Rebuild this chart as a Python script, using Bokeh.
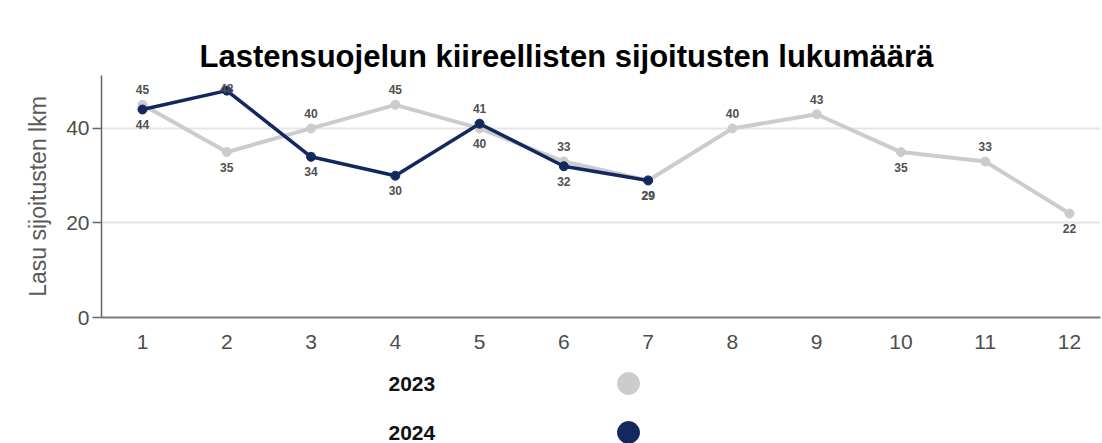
from bokeh.plotting import figure
from bokeh.models import ColumnDataSource, Range1d, FixedTicker
from bokeh.layouts import column
from bokeh.embed import file_html
from bokeh.resources import INLINE
from bokeh.core.properties import value

# ---- data ----
months = [1, 2, 3, 4, 5, 6, 7, 8, 9, 10, 11, 12]
values_2023 = [45, 35, 40, 45, 40, 33, 29, 40, 43, 35, 33, 22]
months_2024 = [1, 2, 3, 4, 5, 6, 7]
values_2024 = [44, 48, 34, 30, 41, 32, 29]
series_names = ["2023", "2024"]
y_ticks = [0, 20, 40]

# label placement (style)
pos_2023 = ["above", "below", "above", "above", "below", "above", "below",
            "above", "above", "below", "above", "below"]
pos_2024 = ["below", "above", "below", "below", "above", "below", "below"]

C23 = "#cccccc"
C24 = "#13285e"
FONT = "Liberation Sans"

W = 1102
LEFT = 101
RIGHT = 2
Y_MAX = 51.2
FRAME_H = 242
px = Y_MAX / FRAME_H


def label_y(vals, pos):
    out = []
    for v, p in zip(vals, pos):
        if p == "above":
            out.append(min(v + 15 * px, Y_MAX - 13 * px))
        else:
            out.append(v - 15 * px)
    return out


src23 = ColumnDataSource(dict(x=months, y=values_2023,
                              ly=label_y(values_2023, pos_2023),
                              t=[str(v) for v in values_2023]))
src24 = ColumnDataSource(dict(x=months_2024, y=values_2024,
                              ly=label_y(values_2024, pos_2024),
                              t=[str(v) for v in values_2024]))

p = figure(width=W, height=360, output_backend="svg", toolbar_location=None,
           x_range=Range1d(0.5135, 12.368), y_range=Range1d(0, Y_MAX),
           min_border_left=LEFT, min_border_right=RIGHT, min_border_top=75,
           min_border_bottom=43,
           title="Lastensuojelun kiireellisten sijoitusten lukumäärä")
p.outline_line_color = None
p.background_fill_color = "white"
p.border_fill_color = "white"

p.title.text_font = FONT
p.title.text_font_size = "31px"
p.title.text_font_style = "bold"
p.title.text_color = "#000000"
p.title.align = "left"
p.title.offset = 98
p.title.standoff = 3

p.xgrid.grid_line_color = None
p.ygrid.grid_line_color = "#e6e6e6"
p.ygrid.grid_line_width = 2
p.ygrid.ticker = FixedTicker(ticks=[20, 40])

p.xaxis.ticker = FixedTicker(ticks=months)
p.xaxis.major_tick_line_color = None
p.xaxis.minor_tick_line_color = None
p.xaxis.axis_line_color = "#7a7a7a"
p.xaxis.axis_line_width = 2
p.xaxis.major_label_text_font = FONT
p.xaxis.major_label_text_font_size = "21px"
p.xaxis.major_label_text_color = "#4d4d4d"
p.xaxis.major_label_standoff = 11

p.yaxis.ticker = FixedTicker(ticks=y_ticks)
p.yaxis.minor_tick_line_color = None
p.yaxis.major_tick_in = 0
p.yaxis.major_tick_out = 9
p.yaxis.major_tick_line_color = "#666666"
p.yaxis.major_tick_line_width = 1.5
p.yaxis.axis_line_color = "#666666"
p.yaxis.axis_line_width = 1.5
p.yaxis.major_label_text_font = FONT
p.yaxis.major_label_text_font_size = "21px"
p.yaxis.major_label_text_color = "#4d4d4d"
p.yaxis.major_label_standoff = 3
p.yaxis.axis_label = "Lasu sijoitusten lkm"
p.yaxis.axis_label_text_font = FONT
p.yaxis.axis_label_text_font_size = "23px"
p.yaxis.axis_label_text_font_style = "normal"
p.yaxis.axis_label_text_color = "#595959"
p.yaxis.axis_label_standoff = 12

p.line("x", "y", source=src23, line_color=C23, line_width=4)
p.scatter("x", "y", source=src23, size=9, fill_color=C23, line_color=C23)
p.line("x", "y", source=src24, line_color=C24, line_width=3.5)
p.scatter("x", "y", source=src24, size=9, fill_color=C24, line_color=C24)

for s in (src23, src24):
    p.text("x", "ly", text="t", source=s, text_font=value(FONT),
           text_font_size="12px", text_font_style="bold", text_color="#505050",
           text_align="center", text_baseline="middle")

# ---- legend (separate strip, pixel-mapped ranges) ----
LEG_H = 83
leg = figure(width=W, height=LEG_H, output_backend="svg", toolbar_location=None,
             x_range=Range1d(LEFT, W - RIGHT), y_range=Range1d(LEG_H, 0),
             min_border_left=LEFT, min_border_right=RIGHT,
             min_border_top=0, min_border_bottom=0)
leg.axis.visible = False
leg.grid.visible = False
leg.outline_line_color = None
rows = list(range(len(series_names)))
leg_src = ColumnDataSource(dict(
    tx=[388 for _ in rows], cx=[628 for _ in rows],
    y=[23 + 49 * i for i in rows], name=series_names, color=[C23, C24]))
leg.text("tx", "y", text="name", source=leg_src, text_font=value(FONT),
         text_font_size="21px", text_font_style="bold", text_color="#111111",
         text_align="left", text_baseline="middle")
leg.scatter("cx", "y", source=leg_src, size=22, fill_color="color",
            line_color="color")

layout = column(p, leg, spacing=0)
open("out.html", "w").write(file_html(layout, INLINE))
